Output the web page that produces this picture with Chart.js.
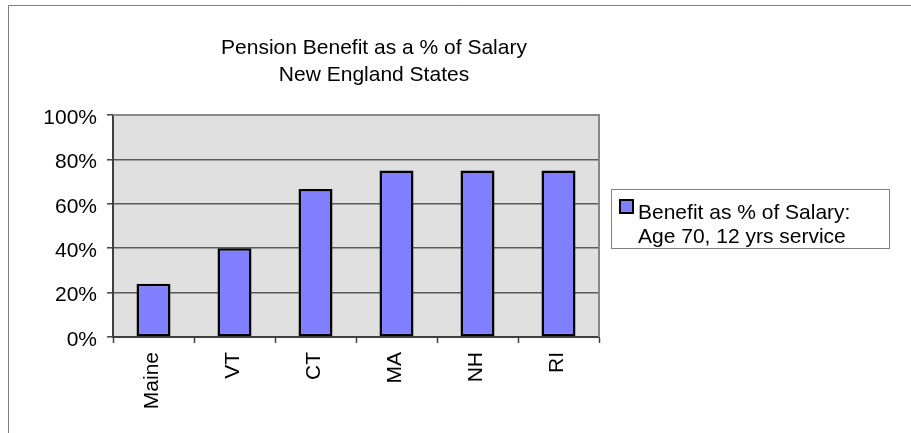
<!DOCTYPE html>
<html>
<head>
<meta charset="utf-8">
<script src="https://cdn.jsdelivr.net/npm/chart.js@4"></script>
<style>
html,body{margin:0;padding:0;background:#fff;}
#wrap{position:relative;width:911px;height:433px;}
</style>
</head>
<body>
<div id="wrap"><canvas id="c" width="911" height="433"></canvas></div>
<script>
const categories = ["Maine", "VT", "CT", "MA", "NH", "RI"];
const benefitValues = [24, 40, 66.7, 75, 75, 75];
const seriesLabel = ["Benefit as % of Salary:", "Age 70, 12 yrs service"];
const titleLines = ["Pension Benefit as a % of Salary", "New England States"];
const yTicks = [0, 20, 40, 60, 80, 100];

const FONT = "'Liberation Sans', Arial, sans-serif";
const BAR_COLOR = "#8080ff";

const decor = {
  id: "decor",
  beforeDraw(chart) {
    const ctx = chart.ctx, a = chart.chartArea;
    ctx.save();
    ctx.fillStyle = "#fff";
    ctx.fillRect(0, 0, chart.width, chart.height);
    // outer frame
    ctx.strokeStyle = "#808080";
    ctx.lineWidth = 1;
    ctx.beginPath();
    ctx.moveTo(8.5, chart.height + 5);
    ctx.lineTo(8.5, 5.5);
    ctx.lineTo(chart.width + 5, 5.5);
    ctx.stroke();
    // plot background
    ctx.fillStyle = "#e0e0e0";
    ctx.fillRect(a.left, a.top, a.right - a.left, a.bottom - a.top);
    ctx.restore();
  },
  afterDatasetsDraw(chart) {
    const ctx = chart.ctx, a = chart.chartArea;
    ctx.save();
    // plot border top/right
    ctx.strokeStyle = "#888888";
    ctx.lineWidth = 2;
    ctx.beginPath();
    ctx.moveTo(a.left, a.top);
    ctx.lineTo(a.right, a.top);
    ctx.lineTo(a.right, a.bottom);
    ctx.stroke();
    // title
    ctx.fillStyle = "#000";
    ctx.font = "21px " + FONT;
    ctx.textAlign = "center";
    ctx.textBaseline = "alphabetic";
    const cx = a.left + (a.right - a.left) / 2 + 18;
    ctx.fillText(titleLines[0], cx, a.top - 61);
    ctx.fillText(titleLines[1], cx, a.top - 34);
    // legend
    const lx = a.right + 12, ly = a.top + 74;
    ctx.fillStyle = "#fff";
    ctx.fillRect(lx, ly, 278, 59);
    ctx.strokeStyle = "#808080";
    ctx.lineWidth = 1;
    ctx.strokeRect(lx + 0.5, ly + 0.5, 278, 59);
    ctx.fillStyle = BAR_COLOR;
    ctx.fillRect(lx + 9, ly + 11, 13, 13);
    ctx.strokeStyle = "#000";
    ctx.lineWidth = 2;
    ctx.strokeRect(lx + 9, ly + 11, 13, 13);
    ctx.fillStyle = "#000";
    ctx.font = "21px " + FONT;
    ctx.textAlign = "left";
    ctx.fillText(seriesLabel[0], lx + 27, ly + 30);
    ctx.fillText(seriesLabel[1], lx + 27, ly + 54);
    ctx.restore();
  }
};

new Chart(document.getElementById("c"), {
  type: "bar",
  data: {
    labels: categories,
    datasets: [{
      label: seriesLabel.join(" "),
      data: benefitValues,
      backgroundColor: BAR_COLOR,
      borderColor: "#000",
      borderWidth: 2.5,
      borderSkipped: false,
      categoryPercentage: 1,
      barPercentage: 0.42
    }]
  },
  options: {
    responsive: false,
    animation: false,
    events: [],
    layout: { padding: { left: 44, right: 312, top: 115, bottom: 0 } },
    plugins: { legend: { display: false }, title: { display: false }, tooltip: { enabled: false } },
    scales: {
      x: {
        grid: { display: true, drawOnChartArea: false, drawTicks: true, tickLength: 6, color: "#404040", tickWidth: 1.5, offset: true },
        border: { display: true, color: "#404040", width: 2 },
        ticks: { color: "#000", font: { family: FONT, size: 21 }, minRotation: 90, maxRotation: 90, padding: 9, labelOffset: -1, autoSkip: false },
        afterFit(s) { s.height = 96; }
      },
      y: {
        min: 0, max: 100,
        afterBuildTicks(s) { s.ticks = yTicks.map(v => ({ value: v })); },
        grid: { color: "#5a5a5a", lineWidth: 1.6, tickLength: 6, drawTicks: true, tickColor: "#404040", tickWidth: 1.5 },
        border: { display: true, color: "#404040", width: 2 },
        ticks: { color: "#000", font: { family: FONT, size: 21 }, padding: 10, labelOffset: 3, callback: v => v + "%" },
        afterFit(s) { s.width = 69; }
      }
    }
  },
  plugins: [decor]
});
</script>
</body>
</html>
